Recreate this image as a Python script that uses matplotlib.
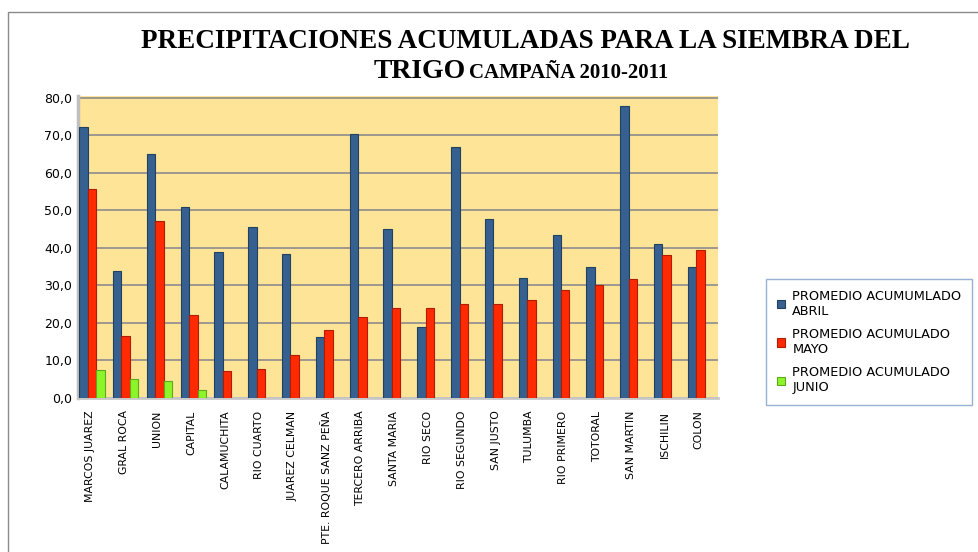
import matplotlib
matplotlib.use("Agg")
import matplotlib.pyplot as plt
import numpy as np
from matplotlib.patches import Rectangle

categories = ["MARCOS JUAREZ", "GRAL ROCA", "UNION", "CAPITAL", "CALAMUCHITA",
              "RIO CUARTO", "JUAREZ CELMAN", "PTE. ROQUE SANZ PEÑA", "TERCERO ARRIBA",
              "SANTA MARIA", "RIO SECO", "RIO SEGUNDO", "SAN JUSTO", "TULUMBA",
              "RIO PRIMERO", "TOTORAL", "SAN MARTIN", "ISCHILIN", "COLON"]
abril = [72.3, 33.8, 65.0, 51.0, 39.0, 45.7, 38.5, 16.2, 70.5, 45.0, 19.0, 67.0,
         47.7, 32.0, 43.5, 35.0, 77.8, 41.0, 35.0]
mayo = [55.8, 16.5, 47.3, 22.0, 7.1, 7.7, 11.5, 18.2, 21.5, 24.0, 24.0, 25.0,
        25.0, 26.0, 28.7, 30.2, 31.7, 38.0, 39.5]
junio = [7.4, 5.0, 4.5, 2.2, 0, 0, 0, 0, 0, 0, 0, 0, 0, 0, 0, 0, 0, 0, 0]
series_names = ["PROMEDIO ACUMUMLADO\nABRIL", "PROMEDIO ACUMULADO\nMAYO", "PROMEDIO ACUMULADO\nJUNIO"]
yticks = [0, 10, 20, 30, 40, 50, 60, 70, 80]

colors = ["#36608F", "#FF2A00", "#8CF52A"]
edges = ["#22405F", "#B01C00", "#5FA81C"]

fig = plt.figure(figsize=(9.79, 5.52), dpi=100)
fig.patch.set_facecolor("white")
fig.add_artist(Rectangle((8 / 979, -0.01), 1.0, 1 - 12 / 552 + 0.01, transform=fig.transFigure,
                         fill=False, edgecolor="#8a8a8a", linewidth=1.0))

ax = fig.add_axes([78 / 979, 1 - 398 / 552, (718 - 78) / 979, (398 - 96) / 552])
ax.set_facecolor("#FEE497")
x = np.arange(len(categories))
w = 0.25
for i, (vals, name) in enumerate(zip([abril, mayo, junio], series_names)):
    vals = np.array(vals, dtype=float)
    mask = vals > 0
    ax.bar(x[mask] + (i - 1) * w, vals[mask], width=w, color=colors[i],
           edgecolor=edges[i], linewidth=0.8, label=name, zorder=3)

ax.set_xlim(-0.41, 18.52)
ax.set_ylim(0, 80.5)
ax.set_yticks(yticks)
ax.set_yticklabels([f"{v:.1f}".replace(".", ",") for v in yticks], fontsize=9, family="DejaVu Sans")
ax.set_xticks(x - 0.06)
ax.set_xticklabels(categories, rotation=90, fontsize=7.8, family="DejaVu Sans")
ax.tick_params(axis="x", length=0, pad=9)
ax.tick_params(axis="y", length=0, pad=4)
ax.yaxis.grid(True, color="#8C8C8C", linewidth=1.2, zorder=1)
ax.set_axisbelow(True)
for s in ["top", "right"]:
    ax.spines[s].set_visible(False)
ax.spines["left"].set_color("#BFBFBF")
ax.spines["left"].set_linewidth(2.5)
ax.spines["bottom"].set_color("#C8C8C8")
ax.spines["bottom"].set_linewidth(2)

handles, labels = ax.get_legend_handles_labels()
leg = fig.legend(handles, labels, loc="upper left", bbox_to_anchor=(760 / 979, 1 - 273 / 552),
                 fontsize=9.3, frameon=True, fancybox=False, edgecolor="#7F9DC9",
                 handlelength=0.6, handleheight=0.6, labelspacing=0.8, borderpad=0.8,
                 handletextpad=0.6)
leg.get_frame().set_linewidth(1.0)

fig.text(525 / 979, 1 - 41 / 552, "PRECIPITACIONES ACUMULADAS PARA LA SIEMBRA DEL",
         ha="center", va="center", fontsize=19.5, fontweight="bold", family="Liberation Serif")
fig.text(466 / 979, 1 - 71 / 552, "TRIGO", ha="right", va="center", fontsize=20,
         fontweight="bold", family="Liberation Serif")
fig.text(469 / 979, 1 - 73 / 552, "CAMPAÑA 2010-2011", ha="left", va="center", fontsize=15,
         fontweight="bold", family="Liberation Serif")

fig.savefig("out.png", dpi=100)
